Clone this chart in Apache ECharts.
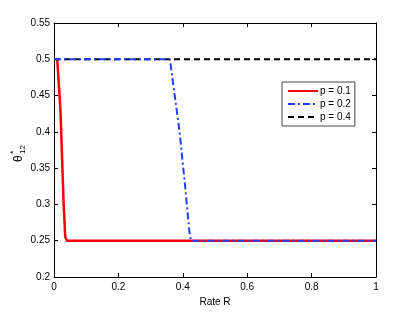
<!DOCTYPE html>
<html><head><meta charset="utf-8">
<script src="https://cdn.jsdelivr.net/npm/echarts@6/dist/echarts.min.js"></script>
<style>html,body{margin:0;padding:0;background:#fff}#c{width:415px;height:312px}</style>
</head><body><div id="c"></div>
<script>
const seriesNames = ['p = 0.1', 'p = 0.2', 'p = 0.4'];
const rateP01 = [0.01, 0.02, 0.03, 0.035, 0.04, 1];
const thetaP01 = [0.5, 0.43, 0.3, 0.255, 0.25, 0.25];
const rateP02 = [0, 0.36, 0.375, 0.39, 0.405, 0.42, 0.425, 1];
const thetaP02 = [0.5, 0.5, 0.45, 0.4, 0.335, 0.265, 0.25, 0.25];
const rateP04 = [0, 1];
const thetaP04 = [0.5, 0.5];
const xTicks = [0, 0.2, 0.4, 0.6, 0.8, 1];
const yTicks = [0.2, 0.25, 0.3, 0.35, 0.4, 0.45, 0.5, 0.55];

const zip = (a, b) => a.map((v, i) => [v, b[i]]);
const font = 'Liberation Sans, Arial, sans-serif';
const chart = echarts.init(document.getElementById('c'));
const axisCommon = {
  axisLine: {show: true, onZero: false, lineStyle: {color: '#000', width: 1}},
  axisTick: {show: true, inside: true, length: 4, lineStyle: {color: '#000'}},
  splitLine: {show: false}
};
chart.setOption({
  animation: false,
  grid: {left: 54, right: 39, top: 23, bottom: 35},
  xAxis: [
    Object.assign({type: 'value', min: xTicks[0], max: xTicks[xTicks.length-1], interval: 0.2, position: 'bottom',
      axisLabel: {color: '#000', fontSize: 10, fontFamily: font, margin: 5},
      name: 'Rate R', nameLocation: 'middle', nameGap: 15,
      nameTextStyle: {color: '#000', fontSize: 10, fontFamily: font}}, axisCommon),
    Object.assign({type: 'value', min: 0, max: 1, interval: 0.2, position: 'top', axisLabel: {show: false}}, axisCommon)
  ],
  yAxis: [
    Object.assign({type: 'value', min: yTicks[0], max: yTicks[yTicks.length-1], interval: 0.05, position: 'left',
      axisLabel: {color: '#000', fontSize: 10, fontFamily: font, margin: 4}}, axisCommon),
    Object.assign({type: 'value', min: 0.2, max: 0.55, interval: 0.05, position: 'right', axisLabel: {show: false}}, axisCommon)
  ],
  legend: {
    left: 282, top: 82, orient: 'vertical', itemGap: 3, itemWidth: 30, itemHeight: 10,
    padding: [4, 4, 4, 5],
    borderColor: '#444', borderWidth: 1, backgroundColor: '#fff',
    itemStyle: {opacity: 0},
    textStyle: {color: '#000', fontSize: 10, fontFamily: font, padding: [0, 0, 0, -3]},
    data: seriesNames
  },
  graphic: [{
    type: 'group', x: 19, y: 162, rotation: Math.PI / 2,
    children: [
      {type: 'text', x: 0, y: 0, style: {text: 'θ', fontSize: 12, fontFamily: font, fill: '#000', textVerticalAlign: 'middle'}},
      {type: 'text', x: 8, y: -5, style: {text: '*', fontSize: 9, fontFamily: font, fill: '#000', textVerticalAlign: 'middle'}},
      {type: 'text', x: 8, y: 4, style: {text: '12', fontSize: 8, fontFamily: font, fill: '#000', textVerticalAlign: 'middle'}}
    ]
  }],
  series: [
    {name: seriesNames[2], type: 'line', symbol: 'none', data: zip(rateP04, thetaP04), z: 3,
      lineStyle: {color: '#000', width: 2, type: [6, 4]}, itemStyle: {color: '#000'}},
    {name: seriesNames[1], type: 'line', symbol: 'none', data: zip(rateP02, thetaP02), z: 4,
      lineStyle: {color: '#1f3fff', width: 2, type: [7, 3, 2, 3]}, itemStyle: {color: '#1f3fff'}},
    {name: seriesNames[0], type: 'line', symbol: 'none', data: zip(rateP01, thetaP01), z: 2,
      lineStyle: {color: '#ff0000', width: 2.5}, itemStyle: {color: '#ff0000'}}
  ]
});
</script></body></html>
